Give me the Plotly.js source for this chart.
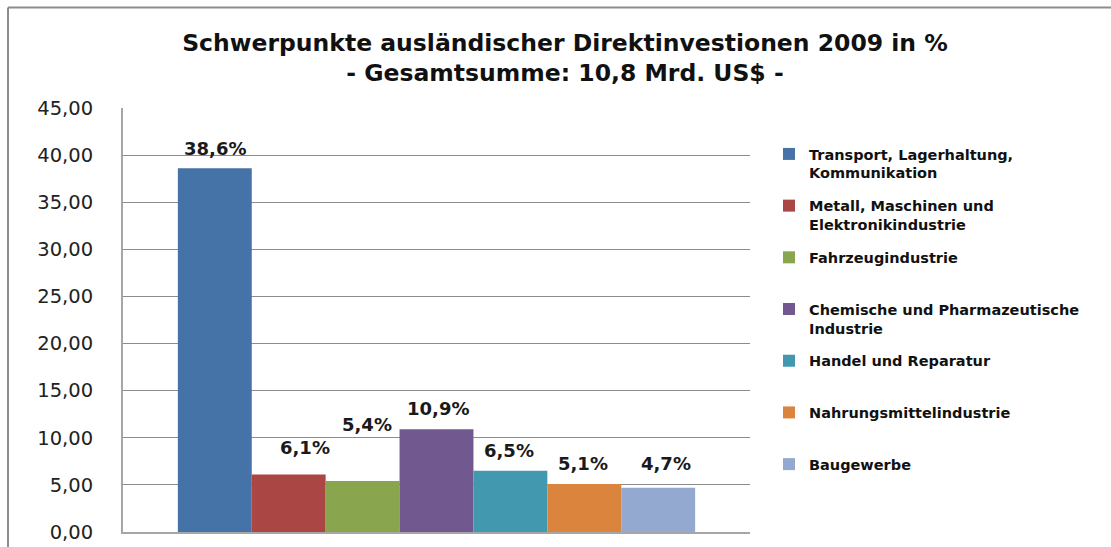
<!DOCTYPE html>
<html>
<head>
<meta charset="utf-8">
<script src="https://cdn.plot.ly/plotly-3.0.1.min.js"></script>
<style>
html,body{margin:0;padding:0;background:#fff;}
#chart{width:1111px;height:547px;}
</style>
</head>
<body>
<div id="chart"></div>
<script>
// ---- data ----
const categories = ["Transport, Lagerhaltung,<br>Kommunikation",
  "Metall, Maschinen und<br>Elektronikindustrie",
  "Fahrzeugindustrie<br> ",
  "Chemische und Pharmazeutische<br>Industrie",
  "Handel und Reparatur<br> ",
  "Nahrungsmittelindustrie<br> ",
  "Baugewerbe<br> "];
const values = [38.6, 6.1, 5.4, 10.9, 6.5, 5.1, 4.7];
const valueLabels = ["38,6%", "6,1%", "5,4%", "10,9%", "6,5%", "5,1%", "4,7%"];
const colors = ["#4572A7", "#AA4643", "#89A54E", "#71588F", "#4198AF", "#DB843D", "#93A9CF"];
const tickVals = [0, 5, 10, 15, 20, 25, 30, 35, 40, 45];

// label offsets (style)
const labelYShift = [20, 27, 57, 21, 20, 20, 24];
const labelXShift = [0, 16, 4, 1, -1, -1, 8];

const bargap = 0.175;
const n = values.length;
const w = (1 - bargap) / n;

const traces = values.map((v, i) => ({
  type: 'bar',
  x: ['g'],
  y: [v],
  name: categories[i],
  legendgroup: 'g' + i,
  marker: {color: colors[i], line: {width: 0}},
  hoverinfo: 'name+y'
}));

const annotations = values.map((v, i) => ({
  xref: 'x', yref: 'y',
  x: -(1 - bargap) / 2 + (i + 0.5) * w,
  y: v,
  text: '<b>' + valueLabels[i] + '</b>',
  showarrow: false,
  xanchor: 'center', yanchor: 'middle',
  yshift: labelYShift[i], xshift: labelXShift[i],
  font: {family: 'DejaVu Sans, Verdana, sans-serif', size: 18, color: '#1a1a1a'}
}));

const PW = 1111 - 123 - 361, PH = 547 - 107.5 - 15;

const layout = {
  width: 1111, height: 547,
  margin: {l: 123, r: 361, t: 107.5, b: 15, pad: 0},
  paper_bgcolor: '#ffffff', plot_bgcolor: '#ffffff',
  separators: ',.',
  barmode: 'group', bargap: bargap, bargroupgap: 0,
  title: {
    text: '<b>Schwerpunkte ausländischer Direktinvestionen 2009 in %<br>- Gesamtsumme: 10,8 Mrd. US$ -</b>',
    font: {family: 'DejaVu Sans, Verdana, sans-serif', size: 23.5, color: '#111'},
    x: 565 / 1111, xref: 'container', xanchor: 'center',
    y: 1 - 50.5 / 547, yref: 'container', yanchor: 'middle'
  },
  xaxis: {
    type: 'category', showticklabels: false, showgrid: false,
    showline: true, linecolor: '#a6a6a6', linewidth: 2,
    ticks: '', fixedrange: true
  },
  yaxis: {
    range: [0, 45], tickvals: tickVals, tickformat: '.2f',
    showgrid: true, gridcolor: '#8c8c8c', gridwidth: 1,
    showline: true, linecolor: '#a6a6a6', linewidth: 2,
    zeroline: false, ticks: '', ticklabelstandoff: 24,
    tickfont: {family: 'DejaVu Sans, Verdana, sans-serif', size: 19.5, color: '#222'},
    fixedrange: true
  },
  showlegend: true,
  legend: {
    x: 769 / 1111, xref: 'container', xanchor: 'left',
    y: 1 - 138 / 547, yref: 'container', yanchor: 'top',
    valign: 'top', traceorder: 'grouped', tracegroupgap: 11,
    maxheight: 520,
    font: {family: 'DejaVu Sans, Verdana, sans-serif', size: 14.5, color: '#111', weight: 'bold'},
    bgcolor: 'rgba(0,0,0,0)', borderwidth: 0
  },
  annotations: annotations,
  shapes: [
    {type: 'line', xref: 'paper', yref: 'paper',
     x0: (8 - 123) / PW, x1: (1111 - 123) / PW,
     y0: (547 - 15 - 7) / PH, y1: (547 - 15 - 7) / PH,
     line: {color: '#8c8c8c', width: 2}},
    {type: 'line', xref: 'paper', yref: 'paper',
     x0: (8 - 123) / PW, x1: (8 - 123) / PW,
     y0: -15 / PH, y1: (547 - 15 - 7) / PH,
     line: {color: '#8c8c8c', width: 2}}
  ]
};

Plotly.newPlot('chart', traces, layout, {displayModeBar: false, staticPlot: true});
</script>
</body>
</html>
